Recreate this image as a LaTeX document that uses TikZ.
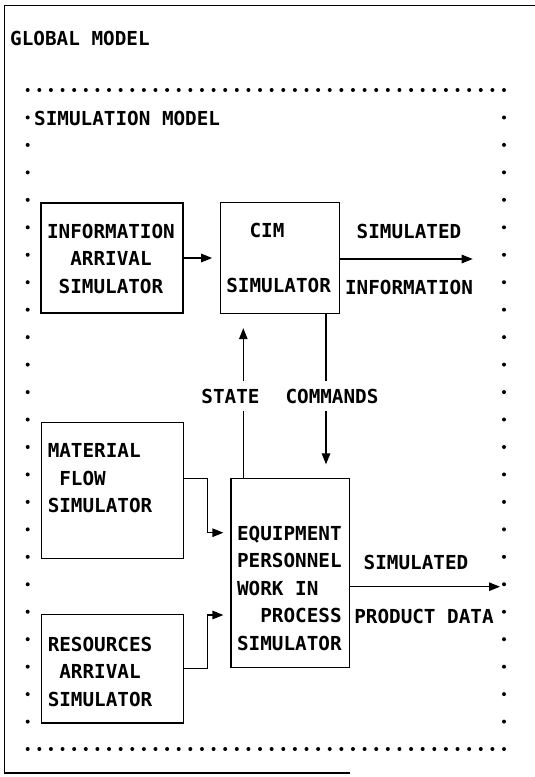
\documentclass[tikz,border=0pt]{standalone}
\usepackage{fontspec}
\setmonofont{DejaVu Sans Mono}
\usetikzlibrary{arrows.meta, positioning}
\tikzset{
	>={Triangle[length=11pt,width=8.5pt]},
	every node/.style={font=\ttfamily\bfseries\fontsize{19.3}{27.46}\selectfont},
	frame/.style={line width=1.8pt},
	simbox/.style={draw, line width=1.3pt, inner sep=0pt},
	boxtext/.style={inner sep=0pt, align=left},
	tag/.style={inner sep=0pt},
	gap/.style={fill=white, inner xsep=0pt, inner ysep=8pt},
	flow/.style={->, line width=1.2pt}}

\begin{document}
\begin{tikzpicture}[x=1pt, y=-1pt]
		\useasboundingbox (0,0) rectangle (535,777);

		% outer frame
		\draw[frame] (535,5.5) -- (4.5,5.5) -- (4.5,773) -- (350,773);
		\node[tag, anchor=west] (global) at (10,38) {GLOBAL MODEL};

		% dotted border
		\foreach \c in {0,...,41} {
			\fill (27.7+11.617*\c, 90) circle (2pt);
			\fill (27.7+11.617*\c, 749) circle (2pt);
		}
		\foreach \r in {1,...,23} {
			\fill (27.7, 90+27.46*\r) circle (2pt);
			\fill (504, 90+27.46*\r) circle (2pt);
		}
		\node[tag, anchor=west] (simmodel) at (34,118) {SIMULATION MODEL};

		% boxes
		\node[simbox, minimum width=142pt, minimum height=110pt] (infoarr) at (112,258) {};
		\node[simbox, minimum width=119pt, minimum height=111pt, right=36pt of infoarr] (cim) {};
		\node[simbox, minimum width=141.6pt, minimum height=135.6pt] (material) at (112.5,490.5) {};
		\node[simbox, minimum width=141.6pt, minimum height=108.4pt, below=55pt of material] (resources) {};
		\node[simbox, minimum width=118.3pt, minimum height=189.4pt] (equip) at (290.2,573) {};

		\node[boxtext, below right=21.3pt and 6.5pt of infoarr.north west] (infotext)
			{INFORMATION\\\phantom{XX}ARRIVAL\\\phantom{X}SIMULATOR};
		\node[boxtext, below right=21.3pt and 6.5pt of cim.north west] (cimtext)
			{\phantom{XX}CIM\\[27.46pt]SIMULATOR};
		\node[boxtext, below right=21.3pt and 6.5pt of material.north west] (materialtext)
			{MATERIAL\\\phantom{X}FLOW\\SIMULATOR};
		\node[boxtext, below right=22.9pt and 6.5pt of resources.north west] (resourcestext)
			{RESOURCES\\\phantom{X}ARRIVAL\\SIMULATOR};
		\node[boxtext, below right=48.1pt and 6.5pt of equip.north west] (equiptext)
			{EQUIPMENT\\PERSONNEL\\WORK IN\\\phantom{XX}PROCESS\\SIMULATOR};

		% connectors
		\coordinate (infoout) at (472.7,259);
		\coordinate (statex) at (243.3,0);
		\coordinate (cmdx) at (326,0);
		\coordinate (mbend) at (207.3,532.7);
		\coordinate (rbend) at (207.3,615);
		\coordinate (prodout) at (500,586.7);

		\draw[flow, shorten >=7.5pt] (infoarr) -- (cim);
		\draw[flow] (cim.east |- infoout) -- (infoout);
		\draw[flow, shorten >=14pt] (equip.north -| statex) -- (cim.south -| statex);
		\draw[flow, shorten >=13.3pt] (cim.south -| cmdx) -- (equip.north -| cmdx);
		\draw[flow, shorten >=7pt] ([yshift=12.2pt]material.east) -| (mbend) -- (equip.west |- mbend);
		\draw[flow, shorten >=7pt] (resources.east) -| (rbend) -- (equip.west |- rbend);
		\draw[flow] (equip.east |- prodout) -- (prodout);

		\node[tag] (siminfo) at (409,231.5) {SIMULATED};
		\node[tag] (infolabel) at (409,287) {INFORMATION};
		\node[gap] (state) at (230.5,396) {STATE};
		\node[gap] (commands) at (332,396) {COMMANDS};
		\node[tag] (simprod) at (416,562.3) {SIMULATED};
		\node[tag] (prodlabel) at (424,616.7) {PRODUCT DATA};
	\end{tikzpicture}
\end{document}
